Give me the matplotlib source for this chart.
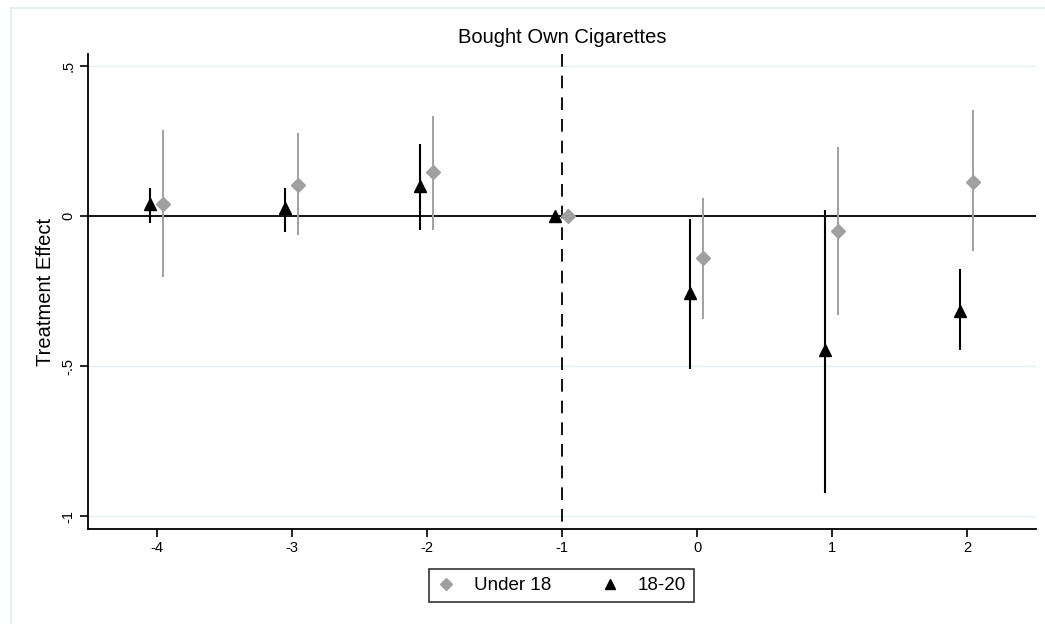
import numpy as np
import matplotlib.pyplot as plt
import matplotlib.transforms as mtransforms
from matplotlib.patches import Rectangle
from matplotlib.lines import Line2D

plt.rcParams['font.family'] = ['Liberation Sans', 'DejaVu Sans']

# event time relative to treatment
periods = [-4, -3, -2, -1, 0, 1, 2]

# Under 18
u18_est = [0.040, 0.105, 0.148, 0.000, -0.141, -0.049, 0.115]
u18_lo = [-0.204, -0.063, -0.046, 0.000, -0.342, -0.329, -0.115]
u18_hi = [0.286, 0.276, 0.335, 0.000, 0.059, 0.230, 0.352]

# 18-20
a1820_est = [0.040, 0.026, 0.100, 0.000, -0.257, -0.447, -0.316]
a1820_lo = [-0.023, -0.053, -0.046, 0.000, -0.510, -0.924, -0.447]
a1820_hi = [0.095, 0.095, 0.240, 0.000, -0.010, 0.020, -0.178]

ytick_vals = [0.5, 0, -0.5, -1]
ytick_labels = ['.5', '0', '-.5', '-1']

gray = '#a0a0a0'
narrow = ['Liberation Sans Narrow', 'Liberation Sans', 'DejaVu Sans']
x = np.array(periods, dtype=float)

fig = plt.figure(figsize=(10.45, 6.24), dpi=100)
fig.patches.append(Rectangle((11 / 1045, -0.1), 1.2, 1 - 8 / 624 + 0.1,
                             transform=fig.transFigure, fill=False,
                             edgecolor='#e3ebee', linewidth=1.2))
ax = fig.add_axes([88 / 1045, 1 - 529 / 624, (1036 - 88) / 1045, (529 - 54) / 624])

# gridlines
for yv in ytick_vals:
    if yv != 0:
        ax.axhline(yv, color='#e6eef0', lw=1.0, zorder=0)
ax.axhline(0, color='black', lw=1.3, zorder=1)
# dashed reference line, drawn top-down so the pattern starts at the top
trans = mtransforms.blended_transform_factory(ax.transData, ax.transAxes)
ax.plot([-1, -1], [1, 0], transform=trans, color='black', lw=1.3,
        dashes=(7, 5), zorder=1)

# confidence intervals
ax.vlines(x + 0.045, u18_lo, u18_hi, color=gray, lw=1.4, zorder=2)
ax.vlines(x - 0.05, a1820_lo, a1820_hi, color='black', lw=1.5, zorder=2)

ax.plot(x + 0.045, u18_est, linestyle='none', marker='D', ms=7.5,
        color=gray, mec=gray, zorder=3)
ax.plot(x - 0.05, a1820_est, linestyle='none', marker='^', ms=8.5,
        color='black', zorder=3)

ax.set_xlim(-4.51, 2.51)
ax.set_ylim(-1.043, 0.54)
ax.set_xticks(periods)
ax.set_xticklabels([str(p) for p in periods], family=narrow)
ax.set_yticks(ytick_vals)
ax.set_yticklabels(ytick_labels, rotation=90, va='center', family=narrow)
ax.tick_params(axis='both', labelsize=10.5, length=6, width=1.2, pad=3)
for s in ['top', 'right']:
    ax.spines[s].set_visible(False)
for s in ['left', 'bottom']:
    ax.spines[s].set_linewidth(1.3)

ax.set_ylabel('Treatment Effect', fontsize=14.5, labelpad=5)
ax.set_title('Bought Own Cigarettes', fontsize=14.5, pad=8)

handles = [Line2D([], [], linestyle='none', marker='D', ms=6.5, color=gray),
           Line2D([], [], linestyle='none', marker='^', ms=7, color='black')]
leg = fig.legend(handles, ['Under 18', '18-20'], loc='center',
                 bbox_to_anchor=(561.5 / 1045, 1 - 585.5 / 624), ncol=2,
                 fontsize=13.5, frameon=True, fancybox=False, edgecolor='black',
                 handletextpad=1.0, columnspacing=2.6, borderpad=0.4,
                 handlelength=1.0)
leg.get_frame().set_linewidth(1.2)

fig.savefig('out.png', dpi=100)
